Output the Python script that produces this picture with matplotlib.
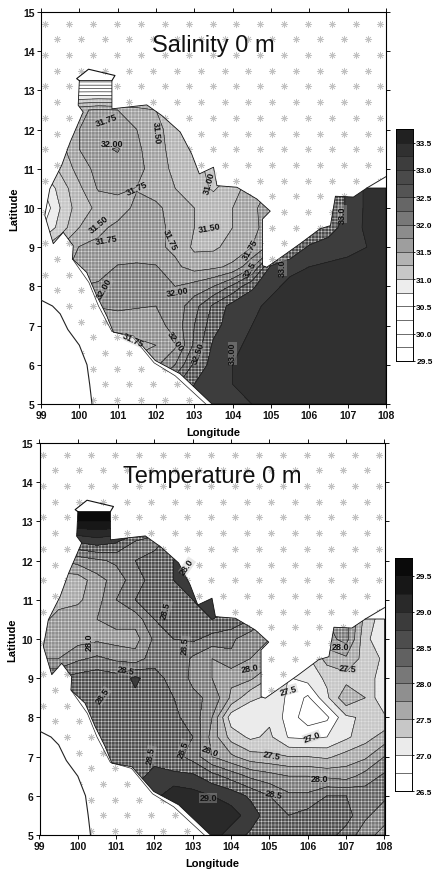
import numpy as np
import matplotlib
matplotlib.use("Agg")
import matplotlib.pyplot as plt
from matplotlib.patches import Polygon, Rectangle

plt.rcParams['font.family'] = ['Liberation Sans', 'DejaVu Sans']
plt.rcParams['hatch.color'] = '#e6e6e6'
plt.rcParams['hatch.linewidth'] = 0.3

lons = [99, 99.5, 100, 100.5, 101, 101.5, 102, 102.5, 103, 103.5, 104, 104.5, 105, 105.5, 106, 106.5, 107, 107.5, 108]
lats = [13.5, 13, 12.5, 12, 11.5, 11, 10.5, 10, 9.5, 9, 8.5, 8, 7.5, 7, 6.5, 6, 5.5, 5]

salinity = [
 [28.9,28.9,28.9,28.9,28.9,28.9,31.4,31.4,31.3,31.2,31.2,31.3,31.5,31.8,32.2,32.6,33.0,33.3,33.3],
 [30.4,30.4,30.4,30.4,30.4,30.4,31.4,31.4,31.3,31.2,31.2,31.3,31.5,31.8,32.2,32.6,33.0,33.3,33.3],
 [31.6,31.6,31.7,31.8,31.75,31.65,31.5,31.5,31.4,31.3,31.3,31.4,31.6,31.9,32.3,32.7,33.0,33.3,33.3],
 [31.5,31.6,31.75,31.82,31.82,31.75,31.55,31.42,31.4,31.3,31.3,31.4,31.6,31.9,32.3,32.7,33.0,33.3,33.3],
 [31.2,31.4,31.75,31.95,32.02,31.8,31.6,31.4,31.3,31.2,31.2,31.4,31.6,31.9,32.3,32.7,33.0,33.3,33.3],
 [31.0,31.3,31.6,31.85,31.9,31.85,31.6,31.45,31.3,31.2,31.2,31.4,31.6,32.0,32.4,32.7,33.0,33.3,33.3],
 [30.7,31.1,31.45,31.78,31.8,31.74,31.65,31.5,31.35,31.22,31.4,31.62,31.78,32.0,32.4,32.7,33.05,33.3,33.3],
 [30.5,31.0,31.4,31.55,31.65,31.8,31.8,31.65,31.5,31.4,31.5,31.72,31.82,32.1,32.4,32.7,33.05,33.3,33.3],
 [30.7,31.1,31.5,31.7,31.8,31.85,31.8,31.7,31.5,31.45,31.5,31.72,31.8,32.2,32.6,32.9,33.1,33.3,33.3],
 [31.2,31.5,31.76,31.8,31.8,31.8,31.8,31.7,31.45,31.45,31.6,31.75,32.1,32.7,33.05,33.1,33.2,33.25,33.3],
 [31.6,31.7,31.8,31.85,32.02,32.05,32.02,31.8,31.65,31.7,31.8,32.2,33.05,33.2,33.25,33.3,33.3,33.3,33.3],
 [31.8,31.85,32.0,32.05,32.1,32.1,32.05,32.0,32.1,32.25,32.55,32.95,33.2,33.3,33.3,33.3,33.35,33.35,33.3],
 [31.85,31.9,31.95,32.02,32.05,32.02,32.0,32.1,32.4,32.8,33.1,33.2,33.3,33.3,33.3,33.35,33.35,33.35,33.35],
 [31.75,31.75,31.75,31.8,31.85,31.85,31.9,32.1,32.5,32.9,33.15,33.25,33.3,33.3,33.3,33.3,33.35,33.35,33.35],
 [31.7,31.7,31.7,31.7,31.7,31.7,31.75,31.95,32.55,33.05,33.2,33.3,33.3,33.35,33.35,33.35,33.35,33.35,33.35],
 [31.7,31.7,31.7,31.7,31.7,31.8,31.95,32.25,32.8,33.1,33.25,33.3,33.3,33.35,33.35,33.35,33.35,33.35,33.35],
 [31.7,31.7,31.7,31.7,31.8,32.0,32.3,32.7,33.0,33.2,33.25,33.3,33.3,33.3,33.3,33.35,33.35,33.35,33.35],
 [31.7,31.7,31.7,31.8,32.0,32.3,32.6,32.9,33.1,33.2,33.25,33.25,33.3,33.3,33.3,33.3,33.35,33.35,33.35],
]

temperature = [
 [29.6,29.6,29.6,29.6,29.6,29.6,28.8,28.8,28.8,28.8,28.8,28.8,28.5,28.2,28.0,28.0,28.0,27.5,27.2],
 [29.5,29.5,29.5,29.5,29.5,29.3,28.8,28.8,28.8,28.8,28.8,28.8,28.5,28.2,28.0,28.0,28.0,27.5,27.2],
 [28.5,28.5,28.8,28.9,28.8,28.5,28.4,28.6,28.8,28.8,28.8,28.8,28.5,28.2,28.0,28.0,28.0,27.5,27.2],
 [27.9,28.0,28.1,28.2,28.3,28.5,28.6,28.75,28.8,28.8,28.8,28.8,28.5,28.2,28.0,28.0,28.0,27.5,27.2],
 [27.7,27.6,27.6,27.9,28.1,28.4,28.6,28.75,28.8,28.8,28.8,28.8,28.5,28.2,28.0,28.0,28.0,27.5,27.2],
 [27.7,27.7,27.7,27.9,28.25,28.5,28.65,28.75,28.75,28.8,28.8,28.7,28.5,28.2,28.0,28.0,28.0,27.5,27.2],
 [27.7,27.8,27.9,28.0,28.1,28.1,28.5,28.7,28.75,28.75,28.7,28.5,28.2,28.0,27.9,28.0,28.1,27.4,27.1],
 [27.8,27.8,27.9,27.95,27.9,27.9,28.3,28.5,28.55,28.4,28.3,28.1,28.0,27.8,27.6,27.9,28.1,27.3,27.1],
 [28.0,28.0,28.2,28.3,28.2,28.1,28.4,28.5,28.2,28.0,28.2,28.0,27.9,27.3,27.2,27.6,27.7,27.4,27.2],
 [28.5,28.5,28.6,28.65,28.6,28.8,28.6,28.4,28.2,28.0,27.8,27.8,27.5,26.98,27.1,27.3,27.4,27.3,27.2],
 [28.6,28.6,28.7,28.7,28.7,28.7,28.6,28.5,28.3,28.2,27.7,27.3,27.2,26.95,26.7,27.2,27.7,27.5,27.0],
 [28.6,28.6,28.7,28.7,28.7,28.65,28.6,28.55,28.4,28.0,27.1,27.05,27.2,26.9,26.6,26.7,27.2,27.3,27.3],
 [28.6,28.6,28.7,28.7,28.7,28.7,28.6,28.6,28.5,27.9,27.4,27.2,27.3,26.98,26.95,27.0,27.2,27.4,27.6],
 [28.6,28.6,28.7,28.7,28.7,28.7,28.7,28.6,28.4,28.0,27.8,27.6,27.55,27.5,27.5,27.45,27.6,27.7,28.0],
 [28.7,28.7,28.7,28.7,28.7,28.7,28.8,28.8,28.8,28.6,28.4,28.2,28.1,28.0,28.0,27.95,27.9,28.1,28.3],
 [28.7,28.7,28.7,28.7,28.8,28.8,28.9,29.2,29.1,29.0,28.9,28.7,28.5,28.3,28.3,28.5,28.5,28.4,28.3],
 [28.7,28.7,28.7,28.8,28.8,28.9,29.0,29.1,29.1,29.2,29.1,28.9,28.6,28.5,28.6,28.6,28.6,28.3,28.1],
 [28.7,28.7,28.7,28.8,28.8,28.9,29.0,29.1,29.1,29.1,28.9,28.7,28.5,28.6,28.7,28.6,28.4,28.1,27.9],
]

salinity_levels = [29.5, 29.75, 30.0, 30.25, 30.5, 30.75, 31.0, 31.25, 31.5, 31.75, 32.0, 32.25, 32.5, 32.75, 33.0, 33.25, 33.5, 33.75]
salinity_grays = [1, 1, 1, 1, 1, .93, .78, .70, .62, .55, .47, .40, .33, .29, .24, .19, .13]
salinity_ticks = [29.5, 30.0, 30.5, 31.0, 31.5, 32.0, 32.5, 33.0, 33.5]

temperature_levels = [26.5, 26.75, 27.0, 27.25, 27.5, 27.75, 28.0, 28.25, 28.5, 28.75, 29.0, 29.25, 29.5, 29.75]
temperature_grays = [1, 1, .92, .78, .66, .56, .47, .38, .30, .23, .16, .09, .04]
temperature_ticks = [26.5, 27.0, 27.5, 28.0, 28.5, 29.0, 29.5]

sea_outline = [(100,13.25),(100.85,13.25),(100.85,12.53),(101.76,12.63),(102.15,12.36),(102.63,11.94),(102.93,11.38),
 (103.13,10.87),(103.50,11.04),(103.59,10.57),(104.11,10.53),(104.63,10.23),(104.98,9.92),(104.78,9.72),
 (104.78,8.53),(104.89,8.49),(105.33,8.79),(105.76,9.09),(106.28,9.47),(106.55,9.55),(106.68,10.30),
 (107.15,10.28),(107.50,10.51),(108,10.51),(108,5),(103.46,5),(102.63,5.77),(101.98,6.11),(101.41,6.74),
 (100.89,6.83),(100.71,7.26),(100.45,7.77),(100.19,8.36),(99.82,8.70),(99.84,9.04),(99.58,9.38),(99.32,9.09),
 (99.10,9.81),(99.23,10.49),(99.54,11.09),(99.76,11.68),(100.10,12.45),(99.97,12.62),(100,13.25)]
bulb = [(100,13.25),(99.93,13.30),(100.24,13.54),(100.93,13.38),(100.85,13.25)]
west_sea = [(99,5),(100.33,5),(100.27,5.5),(100.2,6.0),(100,6.5),(99.7,6.9),(99.5,7.3),(99.3,7.5),(99,7.65)]
coast_strip = [(99.82,8.70),(100.25,8.1),(100.5,7.5),(100.85,6.85),(101.4,6.7),(101.95,6.05),(102.5,5.72),(103.3,5),(103.5,5),(102.6,5.9),(101,7.5)]
ne_wedge = [(107.5,10.51),(108,10.8),(108,10.51)]

salinity_labels = [(100.72,12.25,'31.75',20),(100.85,11.65,'32.00',0),(102.02,11.95,'31.50',-85),(103.4,10.65,'31.00',75),
 (101.5,10.5,'31.75',25),(103.4,9.5,'31.50',10),(100.5,9.6,'31.50',40),(100.7,9.2,'31.75',10),(102.35,9.2,'31.75',-65),
 (100.65,7.95,'32.00',60),(102.55,7.87,'32.00',10),(101.4,6.65,'31.75',-25),(102.5,6.6,'32.00',-55),(103.1,6.3,'32.50',70),
 (104.0,6.3,'33.00',90),(104.45,8.95,'31.75',60),(104.45,8.45,'32.5',60),(105.3,8.5,'33.0',90),(106.85,9.85,'33.0',90)]
temperature_labels = [(102.85,11.85,'28.0',55),(102.3,10.75,'28.5',75),(101.25,9.2,'28.5',-10),(100.3,9.95,'28.0',90),
 (100.65,8.55,'28.5',55),(102.8,9.85,'28.5',85),(104.5,9.25,'28.0',10),(105.5,8.7,'27.5',15),(106.85,9.8,'28.0',0),
 (107.05,9.25,'27.5',-5),(106.1,7.5,'27.0',20),(105.05,7.05,'27.5',-10),(103.45,7.15,'28.0',-20),(102.75,7.2,'28.5',70),
 (101.9,7.05,'28.5',80),(106.3,6.45,'28.0',0),(105.1,6.05,'28.5',-10),(103.4,5.95,'29.0',0)]

X, Y = np.meshgrid(lons, lats)


def pattern(ax):
    col = np.arange(99.1, 108.1, 0.625)
    row = np.arange(5.1, 15, 0.4)
    for i, y in enumerate(row):
        xs = col + (0.3125 if i % 2 else 0)
        ax.scatter(xs, np.full_like(xs, y), marker=(8, 2, 0), s=22, linewidths=0.5,
                   color='#c2c2c2', zorder=1, clip_on=True)


def panel(y0_px, x0_px, title, field, levels, grays, labels):
    W, H = 435, 870
    ax = fig.add_axes([x0_px / W, 1 - (y0_px + 392) / H, 345 / W, 392 / H])
    ax.set_xlim(99, 108)
    ax.set_ylim(5, 15)
    pattern(ax)
    for poly in (west_sea, coast_strip, ne_wedge):
        ax.add_patch(Polygon(poly, closed=True, fc='white', ec='none', zorder=2))
    clip = Polygon(sea_outline, closed=True, fc='none', ec='none', transform=ax.transData)
    ax.add_patch(clip)
    colors = [str(g) for g in grays]
    hatches = ['+++++' if 0.25 < g < 0.9 else None for g in grays]
    cf = ax.contourf(X, Y, np.array(field), levels=levels, colors=colors, hatches=hatches, zorder=3)
    cf.set_clip_path(clip)
    cs = ax.contour(X, Y, np.array(field), levels=levels, colors='#1a1a1a', linewidths=0.45, linestyles='solid', zorder=4)
    cs.set_clip_path(clip)
    xs, ys = zip(*sea_outline)
    ax.plot(xs, ys, color='#111111', lw=0.6, zorder=5)
    bx, by = zip(*bulb)
    ax.plot(bx, by, color='#111111', lw=0.8, zorder=5)
    wx, wy = zip(*west_sea[1:])
    ax.plot(wx, wy, color='#222222', lw=0.8, zorder=5)
    cx, cy = zip(*coast_strip[:8])
    ax.plot(cx, cy, color='#222222', lw=0.5, zorder=5)
    ax.plot([107.5, 108], [10.51, 10.8], color='#222222', lw=0.7, zorder=5)
    for x, y, s, r in labels:
        ax.text(x, y, s, rotation=r, ha='center', va='center', fontsize=6.5, fontweight='bold', color='#111111',
                rotation_mode='anchor', zorder=6,
                bbox=dict(fc='#bbbbbb', ec='none', pad=0.2, alpha=0.35))
    ax.text(103.5, 14.15, title, ha='center', va='center', fontsize=17, color='#111111', zorder=7)
    ax.set_xticks(range(99, 109))
    ax.set_yticks(range(5, 16))
    ax.tick_params(labelsize=7.5, length=3, width=0.7, pad=1.5, top=True, right=True, colors='#111111')
    for t in ax.get_xticklabels() + ax.get_yticklabels():
        t.set_fontweight('bold')
    ax.set_xlabel('Longitude', fontsize=8, fontweight='bold', labelpad=5)
    ax.set_ylabel('Latitude', fontsize=8, fontweight='bold', labelpad=3)
    for s in ax.spines.values():
        s.set_linewidth(0.8)
    return ax, colors, hatches


def colorbar(x_px, top_px, bot_px, levels, colors, hatches, ticks):
    W, H = 435, 870
    cax = fig.add_axes([x_px / W, 1 - bot_px / H, 17 / W, (bot_px - top_px) / H])
    cax.set_xlim(0, 1)
    cax.set_ylim(levels[0], levels[-1])
    for lo, hi, c, h in zip(levels[:-1], levels[1:], colors, hatches):
        cax.add_patch(Rectangle((0, lo), 1, hi - lo, fc=c, ec='none', hatch=h))
    cax.hlines(levels, 0, 1, color='#1a1a1a', lw=0.45)
    cax.set_xticks([])
    cax.yaxis.tick_right()
    cax.set_yticks(ticks)
    cax.set_yticklabels([f'{t:.1f}' for t in ticks], fontsize=6, fontweight='bold')
    cax.tick_params(length=1.5, width=0.6, pad=0.8)
    for s in cax.spines.values():
        s.set_linewidth(0.7)


fig = plt.figure(figsize=(4.35, 8.70), dpi=100, facecolor='white')
ax1, c1, h1 = panel(13, 41, 'Salinity 0 m', salinity, salinity_levels, salinity_grays, salinity_labels)
colorbar(396, 130, 362, salinity_levels, c1, h1, salinity_ticks)
ax2, c2, h2 = panel(444, 39.5, 'Temperature 0 m', temperature, temperature_levels, temperature_grays, temperature_labels)
colorbar(395, 559, 792, temperature_levels, c2, h2, temperature_ticks)
fig.savefig('out.png', dpi=100)
